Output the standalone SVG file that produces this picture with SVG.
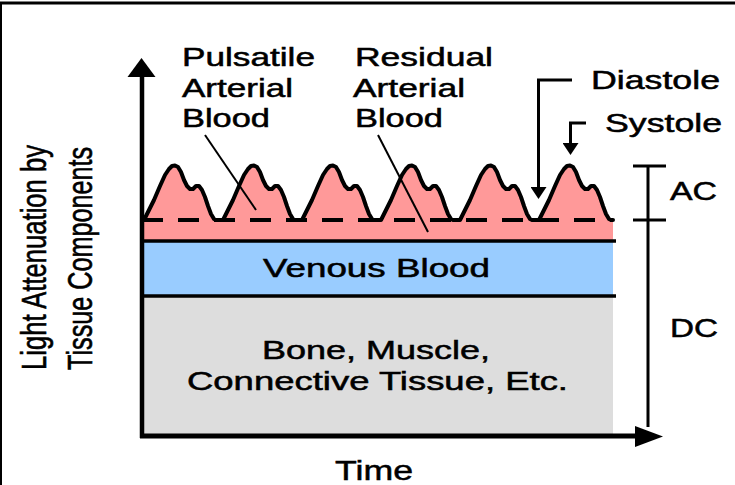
<svg xmlns="http://www.w3.org/2000/svg" width="735" height="485" viewBox="0 0 735 485">
<style>
.lbl{font-family:"Liberation Sans",Arial,sans-serif;font-size:25px;fill:#000;stroke:#000;stroke-width:0.5}
.big{font-size:28px}
.ylab{font-family:"Liberation Sans",Arial,sans-serif;font-size:35px;fill:#000;stroke:#000;stroke-width:0.6;text-anchor:middle}
.ln{stroke:#000;fill:none}
.sep{stroke:#000;stroke-width:3.5}
.axis{stroke:#000;stroke-width:4.5;fill:none}
.head{fill:#000}
.lead{stroke:#000;stroke-width:2;fill:none}
.conn{stroke:#000;stroke-width:3;fill:none;marker-end:url(#ah)}
.wave{stroke:#000;stroke-width:4;fill:none;stroke-linejoin:round;stroke-linecap:round}
</style>
<defs>
<marker id="ah" markerUnits="userSpaceOnUse" markerWidth="12" markerHeight="16" viewBox="0 0 12 16" refX="3" refY="8" orient="auto">
<path d="M0,0 L12,8 L0,16 z" fill="#000"/>
</marker>
</defs>
<rect width="735" height="485" fill="#fff"/>
<g id="frame">
<line x1="0" y1="3" x2="735" y2="3" stroke="#000" stroke-width="3"/>
<line x1="1" y1="2" x2="1" y2="485" stroke="#000" stroke-width="2"/>
</g>
<g id="tissue">
<rect x="142" y="296" width="471" height="140" fill="#dddddd"/>
<text class="lbl" x="262" y="359" textLength="228" lengthAdjust="spacingAndGlyphs">Bone, Muscle,</text>
<text class="lbl" x="187" y="390" textLength="381" lengthAdjust="spacingAndGlyphs">Connective Tissue, Etc.</text>
</g>
<g id="venous">
<rect x="142" y="241" width="471" height="55" fill="#99ccff"/>
<text class="lbl" x="263" y="277" textLength="227" lengthAdjust="spacingAndGlyphs">Venous Blood</text>
</g>
<g id="arterial">
<path fill="#ff9999" d="M142,241 L142,220 L144,220 l5,-10 5,-10 6,-14 5,-11 4,-6 3,-3 3,-0.5 3,1.5 3,5 3,8 3,6 3,3 3,0 3,-3 3,0 3,4 3,7 3,9 3,8 3,5 2,1 7,0 l5,-10 5,-10 6,-14 5,-11 4,-6 3,-3 3,-0.5 3,1.5 3,5 3,8 3,6 3,3 3,0 3,-3 3,0 3,4 3,7 3,9 3,8 3,5 2,1 7,0 l5,-10 5,-10 6,-14 5,-11 4,-6 3,-3 3,-0.5 3,1.5 3,5 3,8 3,6 3,3 3,0 3,-3 3,0 3,4 3,7 3,9 3,8 3,5 2,1 7,0 l5,-10 5,-10 6,-14 5,-11 4,-6 3,-3 3,-0.5 3,1.5 3,5 3,8 3,6 3,3 3,0 3,-3 3,0 3,4 3,7 3,9 3,8 3,5 2,1 7,0 l5,-10 5,-10 6,-14 5,-11 4,-6 3,-3 3,-0.5 3,1.5 3,5 3,8 3,6 3,3 3,0 3,-3 3,0 3,4 3,7 3,9 3,8 3,5 2,1 7,0 l5,-10 5,-10 6,-14 5,-11 4,-6 3,-3 3,-0.5 3,1.5 3,5 3,8 3,6 3,3 3,0 3,-3 3,0 3,4 3,7 3,9 3,8 3,5 2,1 L613,220 L613,241 Z"/>
<line x1="142" y1="220" x2="613" y2="220" stroke="#000" stroke-width="4" stroke-dasharray="21 15"/>
<path class="wave" d="M142,220 L144,220 l5,-10 5,-10 6,-14 5,-11 4,-6 3,-3 3,-0.5 3,1.5 3,5 3,8 3,6 3,3 3,0 3,-3 3,0 3,4 3,7 3,9 3,8 3,5 2,1 7,0 l5,-10 5,-10 6,-14 5,-11 4,-6 3,-3 3,-0.5 3,1.5 3,5 3,8 3,6 3,3 3,0 3,-3 3,0 3,4 3,7 3,9 3,8 3,5 2,1 7,0 l5,-10 5,-10 6,-14 5,-11 4,-6 3,-3 3,-0.5 3,1.5 3,5 3,8 3,6 3,3 3,0 3,-3 3,0 3,4 3,7 3,9 3,8 3,5 2,1 7,0 l5,-10 5,-10 6,-14 5,-11 4,-6 3,-3 3,-0.5 3,1.5 3,5 3,8 3,6 3,3 3,0 3,-3 3,0 3,4 3,7 3,9 3,8 3,5 2,1 7,0 l5,-10 5,-10 6,-14 5,-11 4,-6 3,-3 3,-0.5 3,1.5 3,5 3,8 3,6 3,3 3,0 3,-3 3,0 3,4 3,7 3,9 3,8 3,5 2,1 7,0 l5,-10 5,-10 6,-14 5,-11 4,-6 3,-3 3,-0.5 3,1.5 3,5 3,8 3,6 3,3 3,0 3,-3 3,0 3,4 3,7 3,9 3,8 3,5 2,1 2,0"/>
</g>
<g id="separators">
<line class="sep" x1="142" y1="241" x2="616" y2="241"/>
<line class="sep" x1="142" y1="296" x2="616" y2="296"/>
</g>
<g id="axes">
<line class="axis" x1="142" y1="438" x2="142" y2="74"/>
<polygon class="head" points="127.5,77 155.5,77 141.5,58"/>
<line class="axis" x1="140" y1="436" x2="638" y2="436" style="stroke-width:5"/>
<polygon class="head" points="635,426 635,447 663,436.5"/>
<text class="ylab" transform="translate(46,257.5) rotate(-90)" textLength="225" lengthAdjust="spacingAndGlyphs">Light Attenuation by</text>
<text class="ylab" transform="translate(92,258.5) rotate(-90)" textLength="223" lengthAdjust="spacingAndGlyphs">Tissue Components</text>
<text class="lbl big" x="335" y="480" textLength="78" lengthAdjust="spacingAndGlyphs">Time</text>
</g>
<g id="acdc">
<line class="ln" x1="648" y1="166" x2="648" y2="427" stroke-width="3"/>
<line class="ln" x1="633" y1="166" x2="666" y2="166" stroke-width="3"/>
<line class="ln" x1="633" y1="220" x2="666" y2="220" stroke-width="3"/>
<text class="lbl" x="670" y="200" textLength="47" lengthAdjust="spacingAndGlyphs">AC</text>
<text class="lbl" x="670" y="337" textLength="48" lengthAdjust="spacingAndGlyphs">DC</text>
</g>
<g id="label-pulsatile">
<text class="lbl" x="182" y="66" textLength="133" lengthAdjust="spacingAndGlyphs">Pulsatile</text>
<text class="lbl" x="182" y="97" textLength="111" lengthAdjust="spacingAndGlyphs">Arterial</text>
<text class="lbl" x="182" y="127" textLength="88" lengthAdjust="spacingAndGlyphs">Blood</text>
</g>
<g id="label-residual">
<text class="lbl" x="355" y="66" textLength="138" lengthAdjust="spacingAndGlyphs">Residual</text>
<text class="lbl" x="353" y="97" textLength="112" lengthAdjust="spacingAndGlyphs">Arterial</text>
<text class="lbl" x="355" y="127" textLength="88" lengthAdjust="spacingAndGlyphs">Blood</text>
</g>
<g id="label-diastole">
<text class="lbl" x="591" y="89" textLength="129" lengthAdjust="spacingAndGlyphs">Diastole</text>
</g>
<g id="label-systole">
<text class="lbl" x="605" y="132" textLength="117" lengthAdjust="spacingAndGlyphs">Systole</text>
</g>
<g id="connectors">
<line class="lead" x1="205" y1="135" x2="256" y2="210"/>
<line class="lead" x1="378" y1="135" x2="428" y2="232"/>
<polyline class="conn" points="572,80 538.5,80 538.5,190"/>
<polyline class="conn" points="586,123 570.5,123 570.5,146"/>
</g>
</svg>
